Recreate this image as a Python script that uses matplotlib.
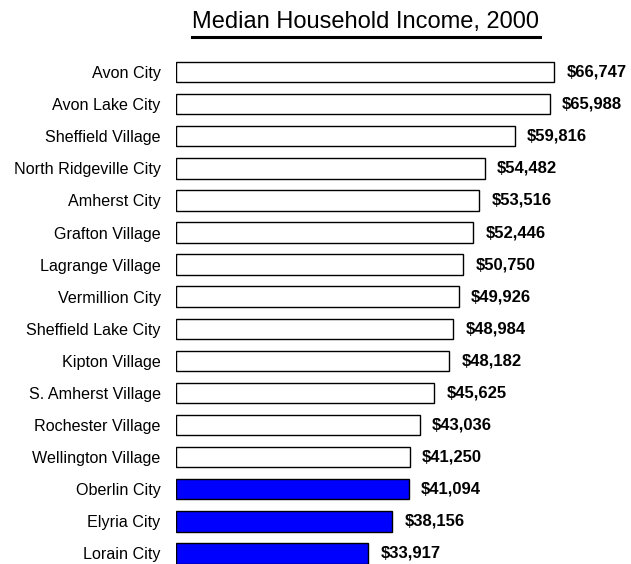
import matplotlib.pyplot as plt
from matplotlib.lines import Line2D

# data
places = ['Avon City', 'Avon Lake City', 'Sheffield Village', 'North Ridgeville City',
          'Amherst City', 'Grafton Village', 'Lagrange Village', 'Vermillion City',
          'Sheffield Lake City', 'Kipton Village', 'S. Amherst Village', 'Rochester Village',
          'Wellington Village', 'Oberlin City', 'Elyria City', 'Lorain City']
income = [66747, 65988, 59816, 54482, 53516, 52446, 50750, 49926,
          48984, 48182, 45625, 43036, 41250, 41094, 38156, 33917]
highlight = ['Oberlin City', 'Elyria City', 'Lorain City']

fig = plt.figure(figsize=(6.31, 5.64), dpi=100)
ax = fig.add_axes([176 / 631, 0, 453 / 631, 508 / 564])

ypos = list(range(len(places)))
colors = ['#0000ff' if p in highlight else 'white' for p in places]
ax.barh(ypos, income, height=0.64, color=colors, edgecolor='black', linewidth=1.0)

for y, v in zip(ypos, income):
    ax.annotate(f'${v:,}', (v, y), xytext=(9, 0), textcoords='offset points',
                va='center', ha='left', fontsize=12, fontweight='bold',
                family='Liberation Sans')

ax.set_xlim(0, 80000)
ax.set_ylim(len(places) - 1 + 0.33, -0.5)
ax.set_yticks(ypos)
ax.set_yticklabels(places, fontsize=11.6, family='Liberation Sans')
ax.tick_params(axis='y', length=0, pad=11)
ax.set_xticks([])
for s in ax.spines.values():
    s.set_visible(False)

t = fig.text(366 / 631, 1 - 22 / 564, 'Median Household Income, 2000', ha='center', va='center',
             fontsize=17, family='Liberation Sans')
fig.canvas.draw()
bb = t.get_window_extent()
uy = 1 - 37 / 564
fig.add_artist(Line2D([bb.x0 / 631, bb.x1 / 631], [uy, uy], color='black', linewidth=2.2))

fig.savefig('out.png', dpi=100)
